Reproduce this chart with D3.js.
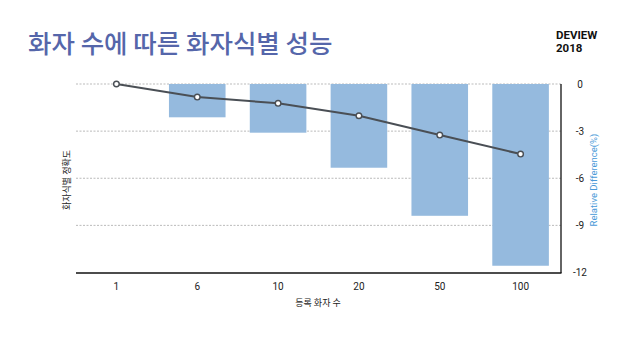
<!DOCTYPE html>
<html>
<head>
<meta charset="utf-8">
<script src="https://cdn.jsdelivr.net/npm/d3@7"></script>
<style>
  body { margin: 0; background: #fff; }
  svg { display: block; font-family: "Noto Sans CJK KR", "Noto Sans", sans-serif; }
</style>
</head>
<body>
<svg id="canvas" width="638" height="359"></svg>
<script>
// data
const speakers = ['1', '6', '10', '20', '50', '100'];
const relDiff = [0, -2.12, -3.1, -5.33, -8.39, -11.57];     // bars, right axis (%)
const accuracy = [0, -0.83, -1.23, -2.02, -3.25, -4.46];   // line, left axis (no ticks shown)
const rightTicks = [0, -3, -6, -9, -12];

const svg = d3.select('#canvas');
const m = { left: 76, right: 561, top: 84, bottom: 272.5 };

// title
svg.append('text').attr('x', 28).attr('y', 53)
  .attr('font-size', 25.5).attr('font-weight', 500).attr('fill', '#5566aa')
  .text('화자 수에 따른 화자식별 성능');
svg.append('text').attr('x', 556).attr('y', 39)
  .attr('font-family', 'Roboto, sans-serif').attr('font-size', 11.5).attr('font-weight', 700).attr('fill', '#111')
  .text('DEVIEW');
svg.append('text').attr('x', 556).attr('y', 51.5)
  .attr('font-family', 'Roboto, sans-serif').attr('font-size', 11.5).attr('font-weight', 700).attr('fill', '#111')
  .text('2018');

// scales
const x = d3.scaleBand().domain(speakers).range([m.left, m.right]).paddingInner(0.3).paddingOuter(0.15);
const xc = d => x(d) + x.bandwidth() / 2;
const y = d3.scaleLinear().domain([-12, 0]).range([m.bottom, m.top]);
const yLeft = d3.scaleLinear().domain([-12, 0]).range([m.bottom, m.top]);

// grid
svg.append('g').selectAll('line')
  .data(rightTicks.filter(t => t !== -12))
  .join('line')
    .attr('x1', m.left).attr('x2', m.right)
    .attr('y1', d => y(d)).attr('y2', d => y(d))
    .attr('stroke', '#aaa').attr('stroke-width', 0.8).attr('stroke-dasharray', '2,1.5');

// bars
svg.append('g').selectAll('rect')
  .data(speakers.map((s, i) => ({ s, v: relDiff[i] })))
  .join('rect')
    .attr('x', d => x(d.s))
    .attr('width', x.bandwidth())
    .attr('y', y(0))
    .attr('height', d => y(d.v) - y(0))
    .attr('fill', '#95bade');

// axes lines
svg.append('line').attr('x1', m.left).attr('x2', m.right + 0.5)
  .attr('y1', m.bottom + 0.5).attr('y2', m.bottom + 0.5)
  .attr('stroke', '#111').attr('stroke-width', 1.3);
svg.append('line').attr('x1', m.right).attr('x2', m.right)
  .attr('y1', m.top).attr('y2', m.bottom + 0.5)
  .attr('stroke', '#111').attr('stroke-width', 1.3);

// right tick labels
svg.append('g').selectAll('text')
  .data(rightTicks)
  .join('text')
    .attr('x', 580).attr('y', d => y(d) + 3.5)
    .attr('text-anchor', 'middle').attr('font-size', 10).attr('fill', '#222')
    .attr('font-family', 'Roboto, sans-serif')
    .text(d => d);

// x tick labels
svg.append('g').selectAll('text')
  .data(speakers)
  .join('text')
    .attr('x', d => xc(d)).attr('y', 290)
    .attr('text-anchor', 'middle').attr('font-size', 10).attr('fill', '#222')
    .attr('font-family', 'Roboto, sans-serif')
    .text(d => d);

// axis titles
svg.append('text').attr('x', 318).attr('y', 306)
  .attr('text-anchor', 'middle').attr('font-size', 9).attr('fill', '#222')
  .text('등록 화자 수');
svg.append('text')
  .attr('transform', 'translate(70,180) rotate(-90)')
  .attr('text-anchor', 'middle').attr('font-size', 9).attr('fill', '#222')
  .text('화자식별 정확도');
svg.append('text')
  .attr('transform', 'translate(597,180) rotate(-90)')
  .attr('text-anchor', 'middle').attr('font-size', 9.5).attr('fill', '#4a9ad8')
  .attr('font-family', 'Roboto, sans-serif')
  .text('Relative Difference(%)');

// line
const pts = speakers.map((s, i) => ({ s, v: accuracy[i] }));
svg.append('path')
  .datum(pts)
  .attr('fill', 'none').attr('stroke', '#4a4f55').attr('stroke-width', 2)
  .attr('d', d3.line().x(d => xc(d.s)).y(d => yLeft(d.v)));
svg.append('g').selectAll('circle')
  .data(pts)
  .join('circle')
    .attr('cx', d => xc(d.s)).attr('cy', d => yLeft(d.v)).attr('r', 2.8)
    .attr('fill', '#fff').attr('stroke', '#4a4f55').attr('stroke-width', 1.4);
</script>
</body>
</html>
